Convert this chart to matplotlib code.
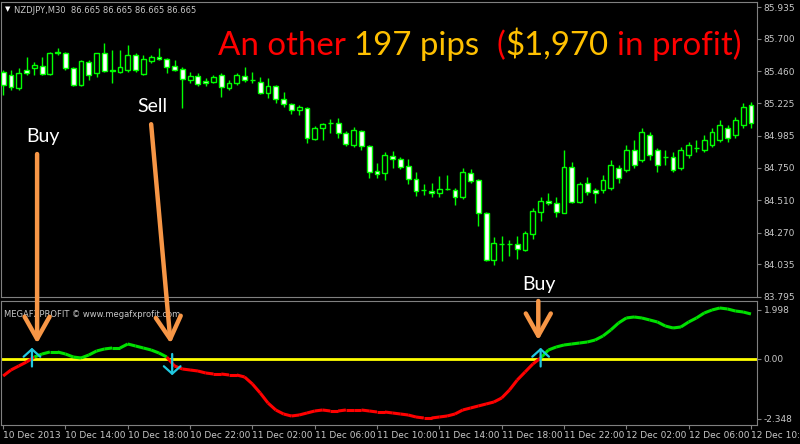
import matplotlib.pyplot as plt
import numpy as np
from matplotlib.collections import LineCollection

# NZDJPY M30 candles, 10 Dec 2013 10:00 -> 12 Dec 2013 10:00 (97 bars)
opens = [85.456, 85.433, 85.338, 85.470, 85.485, 85.500, 85.441, 85.603, 85.596, 85.485,
         85.360, 85.529, 85.448, 85.596, 85.463, 85.456, 85.470, 85.581, 85.441, 85.537,
         85.566, 85.552, 85.500, 85.478, 85.397, 85.426, 85.389, 85.382, 85.433, 85.338,
         85.374, 85.426, 85.397, 85.382, 85.301, 85.352, 85.256, 85.219, 85.175, 85.190,
         84.961, 85.042, 85.079, 85.079, 85.005, 84.917, 85.020, 84.910, 84.725, 84.710,
         84.836, 84.814, 84.762, 84.666, 84.585, 84.577, 84.563, 84.592, 84.585, 84.533,
         84.710, 84.659, 84.415, 84.068, 84.186, 84.186, 84.186, 84.142, 84.260, 84.422,
         84.504, 84.489, 84.415, 84.755, 84.496, 84.636, 84.585, 84.585, 84.600, 84.747,
         84.732, 84.880, 84.806, 84.991, 84.880, 84.828, 84.828, 84.747, 84.843, 84.895,
         84.880, 84.917, 84.954, 85.042, 84.991, 85.064, 85.212]
highs = [85.470, 85.470, 85.485, 85.566, 85.529, 85.566, 85.603, 85.633, 85.603, 85.493,
         85.544, 85.544, 85.596, 85.670, 85.618, 85.618, 85.655, 85.596, 85.581, 85.581,
         85.633, 85.559, 85.544, 85.493, 85.456, 85.448, 85.411, 85.433, 85.448, 85.397,
         85.448, 85.493, 85.456, 85.419, 85.411, 85.360, 85.308, 85.227, 85.212, 85.197,
         85.057, 85.079, 85.109, 85.116, 85.020, 85.050, 85.028, 84.917, 84.784, 84.865,
         84.873, 84.828, 84.814, 84.718, 84.629, 84.636, 84.688, 84.695, 84.600, 84.747,
         84.740, 84.666, 84.422, 84.238, 84.245, 84.216, 84.245, 84.282, 84.452, 84.533,
         84.563, 84.533, 84.880, 84.791, 84.644, 84.680, 84.600, 84.695, 84.806, 84.769,
         84.917, 84.954, 85.042, 85.013, 84.895, 84.880, 84.865, 84.902, 84.939, 84.954,
         84.991, 85.042, 85.101, 85.064, 85.124, 85.227, 85.234]
lows = [85.286, 85.323, 85.323, 85.433, 85.433, 85.433, 85.433, 85.581, 85.470, 85.352,
        85.352, 85.397, 85.419, 85.456, 85.374, 85.448, 85.456, 85.456, 85.433, 85.522,
        85.544, 85.448, 85.463, 85.190, 85.374, 85.352, 85.352, 85.374, 85.271, 85.323,
        85.360, 85.382, 85.374, 85.293, 85.264, 85.227, 85.197, 85.146, 85.138, 84.932,
        84.954, 84.954, 85.005, 84.969, 84.910, 84.902, 84.880, 84.673, 84.673, 84.659,
        84.747, 84.740, 84.629, 84.541, 84.548, 84.533, 84.533, 84.585, 84.474, 84.518,
        84.636, 84.319, 84.061, 84.031, 84.061, 84.098, 84.076, 84.135, 84.223, 84.356,
        84.474, 84.386, 84.415, 84.489, 84.489, 84.548, 84.489, 84.563, 84.585, 84.636,
        84.718, 84.747, 84.791, 84.806, 84.718, 84.769, 84.718, 84.732, 84.821, 84.865,
        84.865, 84.902, 84.939, 84.939, 84.969, 85.042, 85.042]
closes = [85.360, 85.345, 85.448, 85.448, 85.507, 85.441, 85.596, 85.596, 85.485, 85.360,
          85.537, 85.433, 85.596, 85.463, 85.470, 85.493, 85.581, 85.470, 85.552, 85.566,
          85.552, 85.493, 85.470, 85.404, 85.426, 85.367, 85.374, 85.419, 85.345, 85.374,
          85.433, 85.397, 85.397, 85.301, 85.352, 85.256, 85.219, 85.175, 85.197, 84.969,
          85.042, 85.072, 85.079, 85.005, 84.924, 85.028, 84.910, 84.718, 84.703, 84.843,
          84.814, 84.755, 84.666, 84.577, 84.585, 84.563, 84.592, 84.592, 84.533, 84.718,
          84.651, 84.415, 84.068, 84.194, 84.186, 84.186, 84.149, 84.267, 84.430, 84.504,
          84.489, 84.422, 84.755, 84.496, 84.629, 84.570, 84.563, 84.659, 84.769, 84.673,
          84.880, 84.769, 85.013, 84.843, 84.769, 84.828, 84.732, 84.880, 84.917, 84.895,
          84.954, 85.013, 85.064, 84.969, 85.101, 85.197, 85.079]

# MEGAFXPROFIT oscillator
indicator = [-0.68, -0.44, -0.28, -0.12, 0.08, 0.20, 0.28, 0.28, 0.20, 0.08,
             0.04, 0.16, 0.32, 0.40, 0.44, 0.44, 0.60, 0.52, 0.44, 0.36,
             0.24, 0.08, -0.28, -0.40, -0.44, -0.48, -0.56, -0.60, -0.60, -0.64,
             -0.64, -0.72, -1.00, -1.36, -1.76, -2.04, -2.20, -2.28, -2.24, -2.16,
             -2.08, -2.04, -2.08, -2.08, -2.04, -2.04, -2.04, -2.08, -2.12, -2.12,
             -2.16, -2.20, -2.24, -2.32, -2.36, -2.36, -2.32, -2.28, -2.20, -2.04,
             -1.96, -1.88, -1.80, -1.72, -1.56, -1.24, -0.84, -0.52, -0.20, 0.04,
             0.36, 0.48, 0.56, 0.60, 0.64, 0.68, 0.76, 0.92, 1.16, 1.44,
             1.64, 1.68, 1.64, 1.56, 1.48, 1.32, 1.24, 1.28, 1.48, 1.64,
             1.84, 1.96, 2.04, 2.00, 1.92, 1.88, 1.80]

price_ticks = [85.935, 85.700, 85.460, 85.225, 84.985, 84.750, 84.510, 84.270, 84.035, 83.795]
ind_ticks = [1.96, 0.0, -2.40]
ind_tick_labels = ['1.998', '0.00', '-2.348']
time_labels = ['10 Dec 2013', '10 Dec 14:00', '10 Dec 18:00', '10 Dec 22:00',
               '11 Dec 02:00', '11 Dec 06:00', '11 Dec 10:00', '11 Dec 14:00',
               '11 Dec 18:00', '11 Dec 22:00', '12 Dec 02:00', '12 Dec 06:00',
               '12 Dec 10:00']

# signals: bar position and direction
signal_bars = [3.7, 21.7, 69.0]
signal_dirs = ['up', 'down', 'up']

GRID = '#808080'
TXT = '#c8c8c8'

fig = plt.figure(figsize=(8, 4.44), dpi=100, facecolor='black')
ax = fig.add_axes([0.001, 0.3311, 0.945, 0.6644], facecolor='black')
ax2 = fig.add_axes([0.001, 0.0428, 0.945, 0.2793], facecolor='black')

x = np.arange(len(opens))
o = np.array(opens)
c = np.array(closes)

# candles: wicks then bodies (bull = black body, bear = white body)
ax.vlines(x, lows, highs, color='#00ff00', lw=1, zorder=2)
body_face = np.where(c >= o, 'black', 'white')
ax.bar(x, np.abs(c - o), bottom=np.minimum(o, c), width=0.62,
       facecolor=body_face, edgecolor='#00ff00', linewidth=1, zorder=3)

ax.set_xlim(-0.3, 96.75)
ax.set_ylim(83.795, 85.972)
ax.yaxis.tick_right()
ax.set_yticks(price_ticks)
ax.set_yticklabels([f'{p:.3f}' for p in price_ticks])
ax.set_xticks([])
ax.tick_params(axis='y', colors=GRID, labelcolor=TXT, labelsize=6.5,
               length=3, pad=2)
for s in ax.spines.values():
    s.set_color(GRID)

ax.text(0.006, 0.985, '\u25bc', color='white', fontsize=5, transform=ax.transAxes,
        va='top')
ax.text(0.018, 0.988, 'NZDJPY,M30  86.665 86.665 86.665 86.665', color=TXT,
        fontsize=6, transform=ax.transAxes, va='top')

# oscillator with red/green segments
v = np.array(indicator)
pts = np.column_stack([x, v]).reshape(-1, 1, 2)
segs = np.concatenate([pts[:-1], pts[1:]], axis=1)
seg_col = np.where((v[:-1] + v[1:]) / 2 >= 0, '#00e000', '#ff0000')
ax2.add_collection(LineCollection(segs, colors=seg_col, linewidths=2.2, zorder=3))
ax2.axhline(0, color='#ffff00', lw=2, zorder=2)

for b, d in zip(signal_bars, signal_dirs):
    y0, y1 = (-0.3, 0.45) if d == 'up' else (0.2, -0.65)
    ax2.annotate('', xy=(b, y1), xytext=(b, y0),
                 arrowprops=dict(arrowstyle='->,head_width=0.5,head_length=0.45',
                                 color='#20c8e0', lw=1.6, mutation_scale=12,
                                 shrinkA=0, shrinkB=0), zorder=5)

ax2.set_xlim(-0.3, 96.75)
ax2.set_ylim(-2.64, 2.32)
ax2.yaxis.tick_right()
ax2.set_yticks(ind_ticks)
ax2.set_yticklabels(ind_tick_labels)
ax2.set_xticks(np.arange(0, 97, 8))
ax2.set_xticklabels(time_labels, ha='left')
ax2.tick_params(axis='y', colors=GRID, labelcolor=TXT, labelsize=6.5,
                length=3, pad=2)
ax2.tick_params(axis='x', colors=GRID, labelcolor=TXT, labelsize=6.5,
                length=3, pad=1)
for s in ax2.spines.values():
    s.set_color(GRID)
ax2.text(0.004, 0.93, 'MEGAFXPROFIT \u00a9 www.megafxprofit.com', color=TXT,
         fontsize=6, transform=ax2.transAxes, va='top')

# orange call-out arrows from main chart into the oscillator
ORANGE = '#f79646'
calls = [('Buy', 5.1, 84.976, 4.36, 84.85, 4.36, 0.62),
         ('Sell', 19.2, 85.200, 19.0, 85.07, 21.5, 0.62),
         ('Buy', 68.8, 83.885, 68.7, 2.32, 68.7, 0.75)]
for k, (lbl, tx, ty, ax0, ay0, bx, by) in enumerate(calls):
    ax.text(tx, ty, lbl, color='white', fontsize=14, ha='center', va='center',
            family='Lato', zorder=6)
    src = ax.transData if k < 2 else ax2.transData
    ax2.annotate('', xy=(bx, by), xycoords=ax2.transData,
                 xytext=(ax0, ay0), textcoords=src, annotation_clip=False,
                 arrowprops=dict(arrowstyle='->,head_width=0.45,head_length=0.8',
                                 color=ORANGE, lw=3.2, mutation_scale=20,
                                 shrinkA=0, shrinkB=0), zorder=6)

# multi-coloured headline
RED, GOLD = '#ff0000', '#ffc000'
full = 'An other 197 pips  ($1,970 in profit)'
parts = [('An other', RED, 'An other'),
         ('197 pips', GOLD, 'An other 197 pips'),
         ('(', RED, 'An other 197 pips  ('),
         ('$1,970', GOLD, 'An other 197 pips  ($1,970'),
         ('in profit)', RED, full)]
rend = fig.canvas.get_renderer()


def width_px(s, size):
    t = fig.text(0, 0, s, fontsize=size, family='Lato')
    w = t.get_window_extent(rend).width
    t.remove()
    return w


size = 20 * 524 / width_px(full, 20)
x0, ybase = 218 / 800, 1 - 55 / 444
for s, col, prefix in parts:
    start = width_px(prefix, size) - width_px(s, size)
    fig.text(x0 + start / 800, ybase, s, color=col, fontsize=size, family='Lato',
             va='baseline')

fig.savefig('out.png', dpi=100, facecolor='black')
